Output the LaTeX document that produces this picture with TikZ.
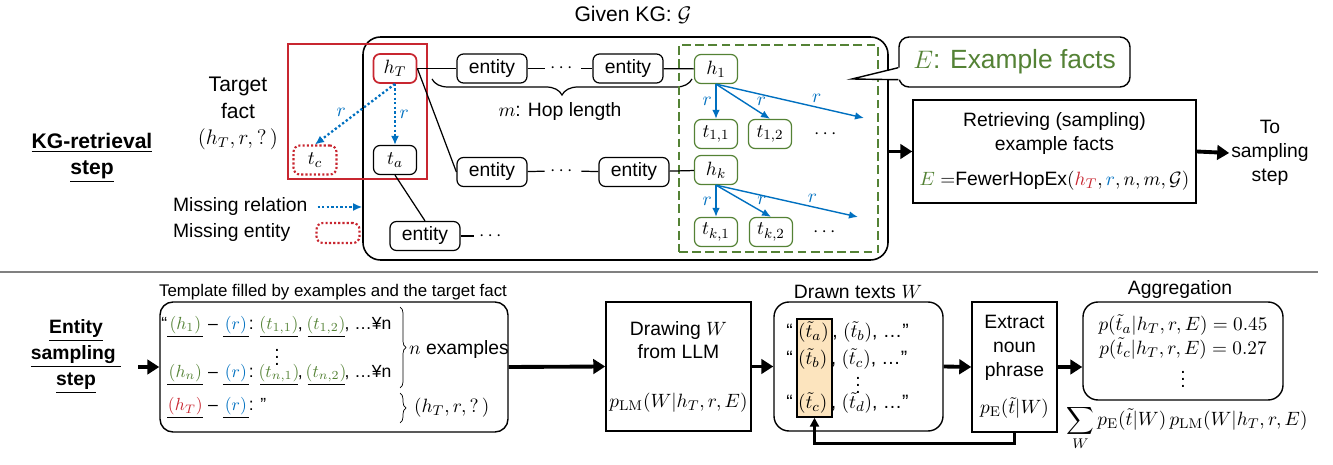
\documentclass[tikz,border=0pt]{standalone}
\usepackage{amsmath}
\usepackage[no-math]{fontspec}
\setmainfont{Liberation Sans}
\usepackage{tikz}
\usetikzlibrary{arrows.meta,positioning,decorations.pathreplacing}

\definecolor{kgred}{RGB}{200,38,48}
\definecolor{kgblue}{RGB}{0,112,192}
\definecolor{kggreen}{RGB}{84,130,53}
\definecolor{hlfill}{RGB}{252,228,190}
\newcommand{\blankslot}[3]{\underline{\makebox[#1]{\color{#2}$#3$}}}

\begin{document}
\begin{tikzpicture}[>=Latex,
  txt/.style={font=\fontsize{11}{13.5}\selectfont,inner sep=1pt},
  lab/.style={font=\fontsize{11}{13.5}\selectfont,inner sep=2pt},
  steplbl/.style={font=\bfseries\fontsize{12}{15}\selectfont,align=center},
  ent/.style={draw,rounded corners=1.3mm,line width=0.7pt,minimum width=1.40cm,minimum height=0.58cm,inner sep=1pt,font=\fontsize{11}{13.5}\selectfont},
  var/.style={ent,minimum width=0.86cm},
  gvar/.style={var,draw=kggreen},
  miss/.style={var,draw=kgred,line width=1.2pt,dash pattern=on 1.2pt off 1.2pt},
  dots/.style={txt,inner sep=3pt},
  rel/.style={-{Latex[length=1.8mm,width=1.6mm]},kgblue,line width=1.3pt,dash pattern=on 1.3pt off 1.3pt},
  garr/.style={-{Latex[length=1.8mm,width=1.5mm]},kgblue,line width=0.8pt},
  big/.style={-{Triangle[length=2.4mm,width=2.9mm]},line width=2.2pt},
  box/.style={draw,line width=0.8pt,align=center,inner sep=2pt,font=\fontsize{11}{13.5}\selectfont},
  rbox/.style={box,rounded corners=3mm},
  tl/.style={anchor=west,inner sep=0pt,font=\fontsize{10}{12}\selectfont}]
\useasboundingbox (0,0) rectangle (26.66,-9.30);

% KG-retrieval step
\node[steplbl] (kgs) at (1.84,-3.16) {\underline{KG-retrieval}\\\underline{step}};
\node[draw,rounded corners=3.5mm,line width=0.9pt,minimum width=10.5cm,minimum height=4.46cm] (kg) at (12.51,-2.97) {};
\node[font=\fontsize{12}{14}\selectfont] (kgt) at (12.66,-0.30) {Given KG: $\mathcal{G}$};
\node[draw=kgred,line width=1.2pt,minimum width=2.78cm,minimum height=2.70cm] (tgt) at (7.15,-2.23) {};
\node[font=\fontsize{12}{15}\selectfont,align=center] (tf) at (4.76,-2.27) {Target\\fact\\$(h_T,r,?\,)$};

\node[var,draw=kgred,line width=1pt] (hT) at (7.90,-1.37) {$h_T$};
\node[var] (ta) at (7.90,-3.20) {$t_a$};
\node[miss] (tc) at (6.30,-3.20) {$t_c$};
\draw[rel] (hT.south) -- node[lab,right]{$r$} (ta.north);
\draw[rel] (hT.south) -- node[lab,pos=0.47,left=4pt]{$r$} (tc.north);

\node[txt,anchor=west] (mr) at (3.42,-4.14) {Missing relation};
\node[txt,anchor=west] (me) at (3.42,-4.66) {Missing entity};
\draw[rel] ([xshift=0.16cm]mr.east) -- (mr.east -| kg.west);
\node[miss,minimum height=0.40cm] (mek) at (6.76,-4.66) {};

% paths in the KG
\node[ent] (e1) at (9.84,-1.37) {entity};
\node[dots] (d1) at (11.26,-1.37) {$\cdots$};
\node[ent] (e2) at (12.56,-1.37) {entity};
\node[ent] (e3) at (9.84,-3.44) {entity};
\node[dots] (d2) at (11.26,-3.42) {$\cdots$};
\node[ent] (e4) at (12.68,-3.44) {entity};
\node[ent] (e5) at (8.50,-4.72) {entity};
\node[dots] (d3) at (9.84,-4.72) {$\cdots$};
\draw[line width=0.7pt] (hT.east) -- (e1.west);
\draw[line width=0.7pt] (e1) -- (d1) -- (e2);
\draw[line width=0.7pt] (hT.east) -- (e3.west);
\draw[line width=0.7pt] (e3) -- (d2) -- (e4);
\draw[line width=0.7pt] (ta.south) -- (e5.north);
\draw[line width=0.7pt] (e5) -- (d3);
\draw[line width=0.7pt,decorate,decoration={brace,mirror,amplitude=0.32cm}] (8.64,-1.58) -- (13.84,-1.58);
\node[txt] (hop) at (11.20,-2.24) {$m$: Hop length};

% example facts
\node[draw=kggreen,line width=1.2pt,dash pattern=on 5pt off 2.5pt,minimum width=3.98cm,minimum height=4.14cm] (exr) at (15.57,-2.97) {};
\node[gvar] (h1) at (14.32,-1.38) {$h_1$};
\node[gvar] (t11) at (14.32,-2.68) {$t_{1,1}$};
\node[gvar] (t12) at (15.40,-2.68) {$t_{1,2}$};
\node[dots] (dg1) at (16.54,-2.68) {$\cdots$};
\node[gvar] (hk) at (14.32,-3.40) {$h_k$};
\node[gvar] (tk1) at (14.32,-4.64) {$t_{k,1}$};
\node[gvar] (tk2) at (15.42,-4.64) {$t_{k,2}$};
\node[dots] (dgk) at (16.52,-4.64) {$\cdots$};
\coordinate (f1) at (17.28,-2.36);
\coordinate (fk) at (17.16,-4.34);
\draw[line width=0.7pt] (e2) -- (h1);
\draw[line width=0.7pt] (e4) -- (hk);
\draw[garr] (h1.south) -- node[lab,left]{$r$} (t11.north);
\draw[garr] (h1.south) -- node[lab,pos=0.7,above right=-1pt]{$r$} (t12.north);
\draw[garr] (h1.south) -- node[lab,pos=0.68,above]{$r$} (f1);
\draw[garr] (hk.south) -- node[lab,left]{$r$} (tk1.north);
\draw[garr] (hk.south) -- node[lab,pos=0.7,above right=-1pt]{$r$} (tk2.north);
\draw[garr] (hk.south) -- node[lab,pos=0.68,above]{$r$} (fk);

\node[draw,fill=white,rounded corners=2mm,line width=0.8pt,minimum width=4.62cm,minimum height=1.0cm,font=\fontsize{15}{18}\selectfont,text=kggreen] (ex) at (20.29,-1.24) {$E$: Example facts};
\coordinate (tip) at (17.04,-1.58);
\fill[white] ([yshift=0.16cm]ex.south west) -- (tip) -- ([yshift=0.40cm]ex.south west) -- ([xshift=2pt,yshift=0.40cm]ex.south west) -- ([xshift=2pt,yshift=0.16cm]ex.south west) -- cycle;
\draw[line width=0.8pt] ([yshift=0.40cm]ex.south west) -- (tip) -- ([yshift=0.16cm]ex.south west);

\node[box,minimum width=5.66cm,minimum height=2.06cm] (ret) at (21.09,-3.03) {Retrieving (sampling)\\example facts\\[6.8pt]${\color{kggreen}E}$ $=$FewerHopEx$({\color{kgred}h_T},{\color{kgblue}r},n,m,\mathcal{G})$};
\node[txt,align=center] (tos) at (25.40,-3.06) {To\\sampling\\step};
\draw[big] (kg.east |- ret.west) -- (ret.west);
\draw[big] (ret.east) -- (tos.west);

\draw[gray,line width=0.8pt] (0,-5.44) -- (26.36,-5.44);

% entity sampling step
\node[steplbl,font=\bfseries\fontsize{11}{15}\selectfont] (ess) at (1.52,-7.13) {\underline{Entity}\\\underline{sampling~}\\\underline{step}};
\coordinate (in) at (2.76,-7.34);
\node[rbox,rounded corners=2.6mm,minimum width=6.96cm,minimum height=2.60cm] (tpl) at (6.68,-7.34) {};
\node[font=\fontsize{9.6}{11}\selectfont] (tplt) at (6.66,-5.84) {Template filled by examples and the target fact};
\draw[big] (in) -- (tpl.west);
\node[tl] (l1) at (3.34,-6.54) {\llap{“}\blankslot{0.72cm}{kggreen}{(h_1)} – \blankslot{0.52cm}{kgblue}{(r)}: \blankslot{0.75cm}{kggreen}{(t_{1,1})}, \blankslot{0.74cm}{kggreen}{(t_{1,2})}, …¥n};
\node[txt] (l2) at (5.54,-7.04) {$\vdots$};
\node[tl] (l3) at (3.34,-7.50) {\blankslot{0.72cm}{kggreen}{(h_n)} – \blankslot{0.52cm}{kgblue}{(r)}: \blankslot{0.75cm}{kggreen}{(t_{n,1})}, \blankslot{0.74cm}{kggreen}{(t_{n,2})}, …¥n};
\node[tl] (l4) at (3.34,-8.16) {\blankslot{0.72cm}{kgred}{(h_T)} – \blankslot{0.52cm}{kgblue}{(r)}: ”};
\draw[decorate,decoration={brace,amplitude=0.12cm}] (8.00,-6.14) -- (8.00,-7.76);
\draw[decorate,decoration={brace,amplitude=0.12cm}] (8.00,-7.86) -- (8.00,-8.46);
\node[txt,anchor=west] (nex) at (8.14,-7.00) {$n$ examples};
\node[txt,anchor=west] (tq) at (8.24,-8.16) {$(h_T,r,?\,)$};

\node[box,minimum width=2.82cm,minimum height=2.58cm] (drw) at (13.57,-7.33) {Drawing $W$\\from LLM\\[14pt]$p_{\mathrm{LM}}(W|h_T,r,E)$};
\draw[big] (tpl.east) -- (drw.west);

\node[rbox,minimum width=3.38cm,minimum height=2.58cm] (drn) at (17.17,-7.33) {};
\node[txt] (drnt) at (17.16,-5.84) {Drawn texts $W$};
\node[draw,fill=hlfill,line width=0.8pt,minimum width=0.70cm,minimum height=1.96cm] (hl) at (16.29,-7.36) {};
\node[tl,font=\fontsize{11}{13.5}\selectfont] (w1) at (15.72,-6.64) {“\hspace{3pt}$(\tilde{t}_a)$\hspace{2pt}, $(\tilde{t}_b)$, …”};
\node[tl,font=\fontsize{11}{13.5}\selectfont] (w2) at (15.72,-7.18) {“\hspace{3pt}$(\tilde{t}_b)$\hspace{2pt}, $(\tilde{t}_c)$, …”};
\node[txt] (w3) at (17.16,-7.60) {$\vdots$};
\node[tl,font=\fontsize{11}{13.5}\selectfont] (w4) at (15.72,-8.06) {“\hspace{3pt}$(\tilde{t}_c)$\hspace{2pt}, $(\tilde{t}_d)$, …”};
\draw[big] (drw.east) -- (drn.west);

\node[box,minimum width=1.70cm,minimum height=2.60cm] (ext) at (20.29,-7.34) {Extract\\noun\\phrase\\[8pt]$p_{\mathrm{E}}(\tilde{t}|W)$};
\draw[big] (drn.east) -- (ext.west);
\draw[line width=1.4pt,-{Triangle[length=1.8mm,width=1.8mm]}] (ext.south) -- ++(0,-0.22) -| (hl.south);

\node[rbox,minimum width=4.00cm,minimum height=1.96cm] (agg) at (23.66,-7.02) {$p(\tilde{t}_a|h_T,r,E)=0.45$\\$p(\tilde{t}_c|h_T,r,E)=0.27$\\$\vdots$};
\node[txt] (aggt) at (23.60,-5.80) {Aggregation};
\draw[big] (ext.east) -- (ext.east -| agg.west);
\node[txt] (sum) at (23.74,-8.56) {$\displaystyle\sum_W p_{\mathrm{E}}(\tilde{t}|W)\,p_{\mathrm{LM}}(W|h_T,r,E)$};
\end{tikzpicture}
\end{document}
